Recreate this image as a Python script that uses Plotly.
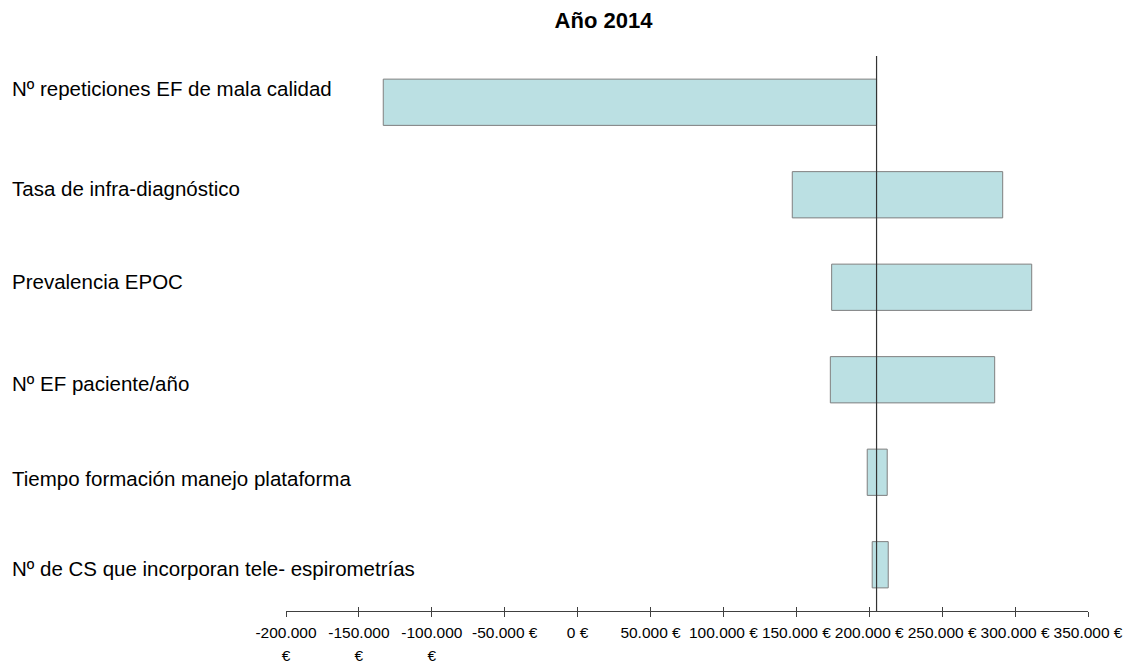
import plotly.graph_objects as go

# Tornado chart: range of the result (€) for each parameter, year 2014
parametros = [
    "Nº repeticiones EF de mala calidad",
    "Tasa de infra-diagnóstico",
    "Prevalencia EPOC",
    "Nº EF paciente/año",
    "Tiempo formación manejo plataforma",
    "Nº de CS que incorporan tele- espirometrías",
]
valor_bajo = [-133300, 147200, 174200, 173300, 198600, 202000]
valor_alto = [205000, 291500, 311400, 286000, 212300, 213000]
caso_base = 205000

tick_vals = [-200000, -150000, -100000, -50000, 0, 50000, 100000,
             150000, 200000, 250000, 300000, 350000]
tick_text = ["-200.000", "-150.000", "-100.000", "-50.000 €", "0 €",
             "50.000 €", "100.000 €", "150.000 €", "200.000 €",
             "250.000 €", "300.000 €", "350.000 €"]
# second line of the wrapped labels
tick_text_2 = ["€", "€", "€", "", "", "", "", "", "", "", "", ""]

# small vertical nudges (px) for the row labels
label_shift = [13.5, 6.7, 5.3, -3.7, -6.0, -3.7]

FONT = "Liberation Sans, Arial, sans-serif"
x_range = [tick_vals[0], tick_vals[-1]]

fig = go.Figure()

fig.add_trace(go.Bar(
    y=parametros,
    x=[a - b for a, b in zip(valor_alto, valor_bajo)],
    base=valor_bajo,
    orientation="h",
    width=0.5,
    marker=dict(color="#BBE0E3", line=dict(color="#7F7F7F", width=1)),
    hoverinfo="skip",
    showlegend=False,
))

# base-case reference line
fig.add_trace(go.Scatter(
    x=[caso_base, caso_base],
    y=[0, 1],
    yaxis="y2",
    xaxis="x2",
    mode="lines",
    line=dict(color="#333333", width=1.2),
    hoverinfo="skip",
    showlegend=False,
))

for p, s in zip(parametros, label_shift):
    fig.add_annotation(
        x=0, xref="paper", xanchor="left", xshift=-276.5,
        y=p, yref="y", yanchor="middle", yshift=s,
        text=p, showarrow=False,
        font=dict(family=FONT, size=20.5, color="#000000"),
    )

fig.update_layout(
    width=1137, height=663,
    margin=dict(l=286, r=49, t=56, b=52, autoexpand=False),
    paper_bgcolor="white", plot_bgcolor="white",
    title=dict(
        text="<b>Año 2014</b>",
        x=0.5308, xref="container", xanchor="center",
        y=0.969, yref="container", yanchor="middle",
        font=dict(family=FONT, size=22, color="#000000"),
    ),
    xaxis=dict(
        range=x_range, tickmode="array", tickvals=tick_vals, ticktext=tick_text,
        ticks="outside", ticklen=5, tickwidth=1, tickcolor="#404040",
        ticklabelstandoff=2, automargin=False,
        showline=True, linecolor="#404040", linewidth=1,
        showgrid=False, zeroline=False,
        tickfont=dict(family=FONT, size=15.5, color="#000000"),
    ),
    xaxis2=dict(
        overlaying="x", anchor="y", side="bottom",
        range=x_range, tickmode="array", tickvals=tick_vals, ticktext=tick_text_2,
        ticks="inside", ticklen=4, tickwidth=1, tickcolor="#404040",
        ticklabelstandoff=33, automargin=False,
        showline=False, showgrid=False, zeroline=False,
        tickfont=dict(family=FONT, size=15.5, color="#000000"),
    ),
    yaxis=dict(
        type="category", categoryorder="array", categoryarray=parametros,
        range=[len(parametros) - 0.5, -0.5], automargin=False,
        showticklabels=False, showgrid=False, zeroline=False, showline=False,
        ticks="",
    ),
    yaxis2=dict(
        overlaying="y", range=[0, 1], visible=False,
    ),
)

fig.write_html("out.html")
